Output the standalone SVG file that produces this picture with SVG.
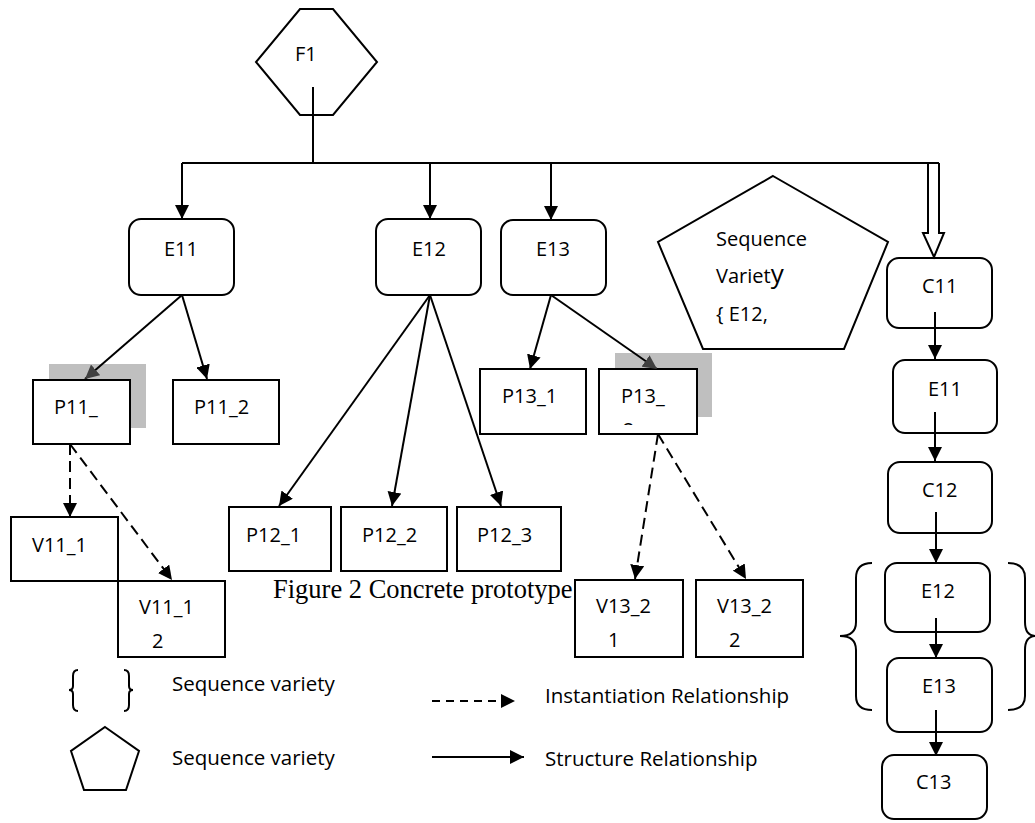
<svg xmlns="http://www.w3.org/2000/svg" width="1035" height="823" viewBox="0 0 1035 823">
<style>
.n{fill:#fff;stroke:#000;stroke-width:2}
.t{font-family:"Open Sans","Liberation Sans",sans-serif;font-size:20px;fill:#000}
.lg{font-family:"Open Sans","Liberation Sans",sans-serif;font-size:20.5px;fill:#000}
.c{fill:none;stroke:#000;stroke-width:2}
.s{marker-end:url(#ah)}
.sg{marker-end:url(#ahg)}
.d{stroke-dasharray:11 6;marker-end:url(#ah)}
.sh{fill:#bfbfbf}
.cap{font-family:"Liberation Serif","Times New Roman",serif;font-size:26.5px;fill:#000}
</style>
<defs>
<marker id="ah" markerUnits="userSpaceOnUse" markerWidth="15" markerHeight="14" refX="14" refY="7" orient="auto"><path d="M0,0 L14,7 L0,14 z" fill="#000"/></marker>
<marker id="ahg" markerUnits="userSpaceOnUse" markerWidth="15" markerHeight="14" refX="14" refY="7" orient="auto"><path d="M0,0 L14,7 L0,14 z" fill="#404040"/></marker>
<clipPath id="cp11"><rect x="33" y="380" width="97" height="54"/></clipPath>
<clipPath id="cp13"><rect x="599" y="369" width="98" height="56"/></clipPath>
</defs>

<g id="F1">
<polygon class="n" points="300,9 333,9 377,62 333,115 300,115 256,62"/>
<text class="t" x="295" y="61">F1</text>
</g>

<g id="E11"><rect class="n" x="129" y="219" width="105" height="76" rx="12"/><text class="t" x="164" y="256">E11</text></g>
<g id="E12"><rect class="n" x="376" y="219" width="105" height="76" rx="12"/><text class="t" x="412" y="256">E12</text></g>
<g id="E13"><rect class="n" x="501" y="220" width="105" height="75" rx="12"/><text class="t" x="536" y="256">E13</text></g>

<g id="SeqVariety">
<polygon class="n" points="773,176 888,242 844,349 703,349 658,242"/>
<text class="t" x="716" y="246">Sequence</text>
<text class="t" x="716" y="283">Variet<tspan font-size="26px">y</tspan></text>
<text class="t" x="716" y="321">{ E12,</text>
</g>

<g id="P11_1">
<rect class="sh" x="49" y="364" width="97" height="64"/>
<rect class="n" x="33" y="380" width="97" height="64"/>
<g clip-path="url(#cp11)"><text class="t" x="54" y="414">P11_</text><text class="t" x="54" y="448">1</text></g>
</g>
<g id="P11_2"><rect class="n" x="173" y="380" width="106" height="64"/><text class="t" x="194" y="414">P11_2</text></g>

<g id="P12_1"><rect class="n" x="229" y="507" width="102" height="64"/><text class="t" x="246" y="542">P12_1</text></g>
<g id="P12_2"><rect class="n" x="341" y="507" width="106" height="64"/><text class="t" x="362" y="542">P12_2</text></g>
<g id="P12_3"><rect class="n" x="457" y="507" width="104" height="64"/><text class="t" x="477" y="542">P12_3</text></g>

<g id="P13_1"><rect class="n" x="480" y="369" width="106" height="65"/><text class="t" x="502" y="403">P13_1</text></g>
<g id="P13_2">
<rect class="sh" x="615" y="353" width="97" height="64"/>
<rect class="n" x="599" y="369" width="98" height="65"/>
<g clip-path="url(#cp13)"><text class="t" x="621" y="403">P13_</text><text class="t" x="623" y="437">2</text></g>
</g>

<g id="V11_1"><rect class="n" x="11" y="517" width="107" height="64"/><text class="t" x="32" y="552">V11_1</text></g>
<g id="V11_1_2"><rect class="n" x="118" y="581" width="107" height="76"/><text class="t" x="139" y="614">V11_1</text><text class="t" x="152" y="648">2</text></g>

<g id="V13_2_1"><rect class="n" x="575" y="580" width="108" height="77"/><text class="t" x="596" y="613">V13_2</text><text class="t" x="608" y="647">1</text></g>
<g id="V13_2_2"><rect class="n" x="696" y="580" width="107" height="77"/><text class="t" x="717" y="613">V13_2</text><text class="t" x="729" y="647">2</text></g>

<g id="C11"><rect class="n" x="887" y="258" width="105" height="70" rx="12"/><text class="t" x="922" y="293">C11</text></g>
<g id="E11b"><rect class="n" x="893" y="360" width="104" height="73" rx="12"/><text class="t" x="928" y="396">E11</text></g>
<g id="C12"><rect class="n" x="888" y="462" width="104" height="71" rx="12"/><text class="t" x="922" y="497">C12</text></g>
<g id="E12b"><rect class="n" x="885" y="563" width="105" height="69" rx="12"/><text class="t" x="921" y="598">E12</text></g>
<g id="E13b"><rect class="n" x="887" y="658" width="105" height="74" rx="12"/><text class="t" x="922" y="693">E13</text></g>
<g id="C13"><rect class="n" x="882" y="755" width="105" height="64" rx="12"/><text class="t" x="916" y="789">C13</text></g>

<g id="braces">
<path class="c" d="M872,563 Q856,563 856,578 L856,622 Q856,636 840,636 Q856,636 856,650 L856,696 Q856,710 872,710"/>
<path class="c" d="M1008,563 Q1025,563 1025,578 L1025,622 Q1025,636 1036,636 Q1025,636 1025,650 L1025,696 Q1025,710 1008,710"/>
</g>

<g id="connectors">
<path class="c" d="M313,87 L313,163 M182,163 L939,163"/>
<path class="c" d="M928,163 L928,233 L923,233 L934,257 L944,233 L939,233 L939,163" fill="#fff"/>
<line class="c s" x1="182" y1="163" x2="182" y2="219"/>
<line class="c s" x1="430" y1="163" x2="430" y2="219"/>
<line class="c s" x1="551" y1="163" x2="551" y2="220"/>
<line class="c sg" x1="182" y1="295" x2="85" y2="379"/>
<line class="c s" x1="182" y1="295" x2="207" y2="379"/>
<line class="c s" x1="430" y1="295" x2="279" y2="506"/>
<line class="c s" x1="430" y1="295" x2="392" y2="506"/>
<line class="c s" x1="430" y1="295" x2="501" y2="506"/>
<line class="c s" x1="551" y1="295" x2="530" y2="369"/>
<line class="c sg" x1="551" y1="295" x2="657" y2="369"/>
<line class="c d" x1="70" y1="444" x2="70" y2="517"/>
<line class="c d" x1="70" y1="444" x2="172" y2="580"/>
<line class="c d" x1="658" y1="434" x2="635" y2="579"/>
<line class="c d" x1="658" y1="434" x2="746" y2="579"/>
<line class="c s" x1="935" y1="312" x2="935" y2="359"/>
<line class="c s" x1="935" y1="412" x2="935" y2="461"/>
<line class="c s" x1="936" y1="512" x2="936" y2="563"/>
<line class="c s" x1="936" y1="618" x2="936" y2="658"/>
<line class="c s" x1="936" y1="710" x2="936" y2="756"/>
</g>

<text class="cap" x="273" y="598">Figure 2 Concrete prototype</text>

<g id="legend">
<path class="c" d="M78,670 Q73,670 73,676 L73,686 Q73,690 69,690 Q73,690 73,694 L73,705 Q73,711 78,711"/>
<path class="c" d="M124,670 Q129,670 129,676 L129,686 Q129,690 133,690 Q129,690 129,694 L129,705 Q129,711 124,711"/>
<text class="lg" x="172" y="691">Sequence variety</text>
<polygon class="c" points="105,727 139,751 126,790 84,790 71,751"/>
<text class="lg" x="172" y="765">Sequence variety</text>
<line class="c" x1="432" y1="701" x2="515" y2="701" style="stroke-dasharray:8 6;marker-end:url(#ah)"/>
<text class="lg" x="545" y="703">Instantiation Relationship</text>
<line class="c s" x1="432" y1="757" x2="524" y2="757"/>
<text class="lg" x="545" y="766">Structure Relationship</text>
</g>
</svg>
